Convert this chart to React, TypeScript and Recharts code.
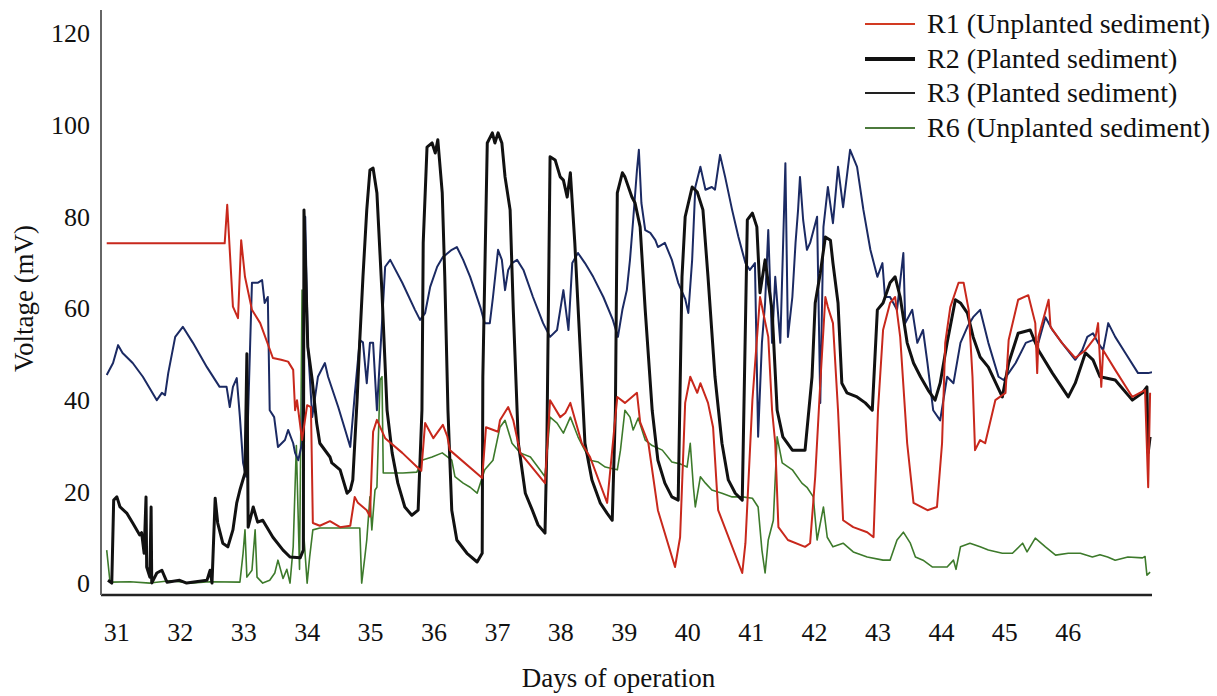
import React from 'react';
import { LineChart, Line, XAxis, YAxis, Legend, Label } from 'recharts';

const SERIF = `"Liberation Serif", "Tinos", "FreeSerif", monospace`;

const dayTicks = [31, 32, 33, 34, 35, 36, 37, 38, 39, 40, 41, 42, 43, 44, 45, 46];
const voltTicks = [0, 20, 40, 60, 80, 100, 120];

// R1 (Unplanted sediment)
const r1Days = [
  30.84, 32.70, 32.74, 32.83, 32.91, 32.96, 33.02, 33.13, 33.26, 33.46,
  33.59, 33.70, 33.78, 33.81, 33.84, 33.92, 34.00, 34.06, 34.09, 34.20,
  34.36, 34.52, 34.68, 34.75, 34.80, 34.94, 34.99, 35.04, 35.10, 35.23,
  35.50, 35.75, 35.80, 35.86, 35.99, 36.14, 36.21, 36.25, 36.76, 36.82,
  37.01, 37.04, 37.17, 37.25, 37.36, 37.75, 37.83, 37.99, 38.07, 38.15,
  38.33, 38.46, 38.73, 38.89, 39.01, 39.20, 39.25, 39.38, 39.53, 39.80,
  39.88, 39.96, 40.04, 40.15, 40.20, 40.32, 40.40, 40.48, 40.86, 40.91,
  41.02, 41.14, 41.27, 41.33, 41.38, 41.43, 41.58, 41.85, 41.93, 42.01,
  42.09, 42.17, 42.21, 42.29, 42.37, 42.45, 42.61, 42.83, 42.93, 43.00,
  43.08, 43.19, 43.27, 43.35, 43.46, 43.56, 43.78, 43.93, 44.01, 44.06,
  44.14, 44.27, 44.35, 44.43, 44.49, 44.53, 44.61, 44.69, 44.85, 45.01,
  45.06, 45.21, 45.37, 45.48, 45.51, 45.53, 45.69, 45.72, 45.90, 46.11,
  46.27, 46.43, 46.47, 46.52, 46.55, 46.74, 47.01, 47.21, 47.26, 47.29,
];
const r1Mv = [
  74.1, 74.1, 82.5, 60.3, 57.8, 74.8, 66.8, 59.6, 56.7, 49.1,
  48.7, 48.3, 46.5, 37.7, 39.9, 31.2, 38.8, 38.4, 13.1, 12.5,
  13.5, 12.2, 12.5, 18.8, 17.5, 15.9, 14.5, 33, 35.6, 31.6,
  28.4, 25.1, 24.5, 34.9, 31.6, 34.5, 32, 29, 22.9, 34,
  33, 35.5, 38.4, 35.5, 28.4, 21.8, 39.9, 36.2, 37.1, 39.3,
  30.5, 27.5, 17.5, 40.6, 39.3, 41.5, 35.1, 30.5, 15.9, 3.5,
  10, 39.3, 45, 41.5, 43.6, 39.3, 34, 15.9, 2.2, 8.7,
  39.9, 62.4, 53.7, 37.7, 30.5, 12.2, 9.4, 7.9, 8.7, 23.2,
  43.6, 62.4, 60.2, 56.7, 37.7, 13.7, 12.2, 11.1, 10, 37.7,
  55.2, 61.1, 62.4, 53.7, 30.5, 17.5, 15.9, 16.6, 30.5, 52.4,
  60.2, 65.5, 65.5, 59.6, 45, 29, 31.2, 30.5, 39.9, 41.5,
  53, 61.8, 62.8, 56.7, 45.8, 53.7, 61.8, 55.9, 52.4, 49.1,
  50.8, 53.7, 56.7, 42.8, 50.8, 46.5, 40.6, 42.1, 20.9, 41.5,
];

// R2 (Planted sediment)
const r2Days = [
  30.86, 30.92, 30.95, 31.00, 31.05, 31.16, 31.25, 31.36, 31.39, 31.43,
  31.46, 31.47, 31.52, 31.54, 31.55, 31.63, 31.71, 31.79, 31.99, 32.10,
  32.42, 32.47, 32.50, 32.55, 32.59, 32.67, 32.75, 32.83, 32.89, 32.94,
  33.02, 33.05, 33.07, 33.15, 33.22, 33.30, 33.46, 33.62, 33.73, 33.89,
  33.94, 33.95, 34.01, 34.08, 34.15, 34.20, 34.36, 34.39, 34.52, 34.63,
  34.68, 34.72, 34.79, 34.83, 34.88, 34.94, 34.99, 35.04, 35.10, 35.18,
  35.26, 35.34, 35.43, 35.54, 35.65, 35.75, 35.81, 35.83, 35.89, 35.97,
  36.02, 36.06, 36.13, 36.17, 36.22, 36.28, 36.36, 36.52, 36.68, 36.76,
  36.77, 36.84, 36.92, 36.96, 37.01, 37.07, 37.12, 37.20, 37.25, 37.33,
  37.44, 37.55, 37.64, 37.75, 37.78, 37.83, 37.91, 37.99, 38.04, 38.10,
  38.15, 38.22, 38.30, 38.38, 38.49, 38.62, 38.73, 38.81, 38.86, 38.89,
  38.97, 39.01, 39.12, 39.17, 39.25, 39.33, 39.44, 39.53, 39.64, 39.75,
  39.85, 39.91, 39.96, 40.07, 40.15, 40.24, 40.32, 40.43, 40.54, 40.64,
  40.75, 40.86, 40.94, 41.02, 41.09, 41.14, 41.22, 41.33, 41.41, 41.50,
  41.65, 41.85, 41.96, 42.01, 42.09, 42.17, 42.25, 42.29, 42.37, 42.43,
  42.51, 42.67, 42.80, 42.91, 42.99, 43.08, 43.19, 43.27, 43.35, 43.46,
  43.56, 43.67, 43.79, 43.90, 43.98, 44.09, 44.22, 44.30, 44.41, 44.50,
  44.61, 44.74, 44.96, 45.06, 45.21, 45.40, 45.53, 45.75, 46.00, 46.11,
  46.27, 46.39, 46.50, 46.74, 47.01, 47.17, 47.24, 47.26, 47.29,
];
const r2Mv = [
  0.6, 0, 18.1, 18.8, 16.6, 15.2, 13.1, 10.5, 11, 6.5,
  18.8, 3.5, 1.3, 16.6, 0, 2.2, 2.8, 0.2, 0.6, 0,
  0.6, 2.8, 0, 18.5, 13.1, 8.7, 7.9, 11.6, 17.5, 20.3,
  24, 50, 12.2, 16.6, 13.3, 13.7, 10, 7.2, 5.7, 5.5,
  7.2, 81.4, 51.5, 44.3, 34.9, 30.5, 27.5, 26.2, 24.7, 19.6,
  20.3, 22.5, 40.6, 53, 66.8, 81.4, 90.1, 90.5, 85.1, 63.3,
  37.7, 28.4, 21.8, 16.6, 14.8, 15.9, 37.7, 74.2, 95.1, 96,
  93.8, 96.7, 85.1, 66.8, 37.7, 15.9, 9.4, 6.5, 4.6, 6.5,
  45, 96, 98.2, 96, 98.2, 96, 88.6, 81.4, 59.6, 30.5,
  19.6, 15.9, 12.7, 10.9, 30.5, 93, 92.3, 88.6, 87.9, 84.2,
  89.5, 74.2, 52.4, 30.5, 22.5, 17.5, 15.2, 13.7, 37.7, 85.1,
  89.5, 88.6, 84.2, 82.9, 77.7, 59.6, 37.7, 26.8, 21.8, 18.8,
  18.1, 66.8, 79.9, 86.4, 85.3, 81.4, 66.8, 45, 30.5, 22.5,
  19.6, 18.1, 79.2, 80.7, 77.7, 63.3, 70.5, 59.6, 37.7, 31.9,
  29, 29, 45, 61.1, 67.6, 75.5, 74.8, 69.8, 61.1, 43.6,
  41.5, 40.6, 39.3, 37.7, 59.6, 61.1, 65.5, 66.8, 62.4, 52.4,
  48, 45, 42.1, 39.9, 43.6, 52.4, 61.8, 61.1, 58.9, 53.7,
  49.3, 47.1, 40.6, 48, 54.5, 55.2, 50.8, 45.8, 40.6, 43.6,
  50.2, 48.7, 45, 44.3, 39.9, 41.5, 42.8, 28.4, 31.9,
];

// R3 (Planted sediment)
const r3Days = [
  30.84, 30.94, 31.02, 31.09, 31.25, 31.41, 31.63, 31.71, 31.76, 31.81,
  31.92, 32.04, 32.20, 32.42, 32.62, 32.73, 32.78, 32.83, 32.89, 32.94,
  32.99, 33.04, 33.13, 33.22, 33.29, 33.33, 33.38, 33.41, 33.48, 33.54,
  33.65, 33.70, 33.78, 33.81, 33.86, 33.92, 33.97, 34.01, 34.08, 34.17,
  34.28, 34.33, 34.49, 34.60, 34.68, 34.75, 34.83, 34.88, 34.94, 34.99,
  35.04, 35.10, 35.18, 35.23, 35.31, 35.50, 35.70, 35.78, 35.86, 35.94,
  36.05, 36.14, 36.28, 36.36, 36.46, 36.57, 36.73, 36.80, 36.88, 36.93,
  37.01, 37.07, 37.12, 37.17, 37.23, 37.31, 37.41, 37.56, 37.72, 37.83,
  37.94, 38.04, 38.12, 38.18, 38.27, 38.38, 38.51, 38.67, 38.82, 38.90,
  38.97, 39.04, 39.09, 39.14, 39.20, 39.23, 39.27, 39.33, 39.41, 39.49,
  39.53, 39.64, 39.75, 39.85, 39.96, 40.01, 40.07, 40.12, 40.20, 40.28,
  40.38, 40.43, 40.51, 40.59, 40.70, 40.80, 40.91, 40.98, 41.06, 41.11,
  41.17, 41.22, 41.27, 41.33, 41.38, 41.46, 41.54, 41.58, 41.65, 41.70,
  41.74, 41.77, 41.82, 41.88, 41.93, 42.04, 42.09, 42.14, 42.21, 42.29,
  42.37, 42.45, 42.56, 42.67, 42.77, 42.88, 42.99, 43.07, 43.11, 43.19,
  43.30, 43.40, 43.43, 43.54, 43.62, 43.71, 43.78, 43.87, 43.98, 44.09,
  44.19, 44.30, 44.41, 44.50, 44.61, 44.74, 44.90, 44.98, 45.06, 45.17,
  45.33, 45.44, 45.53, 45.64, 45.75, 45.90, 46.11, 46.22, 46.30, 46.39,
  46.47, 46.55, 46.63, 46.74, 46.90, 47.10, 47.26, 47.32,
];
const r3Mv = [
  45.4, 48, 51.9, 50.2, 48, 45, 39.9, 41.5, 41, 45.8,
  53.7, 55.9, 52.4, 47.1, 42.8, 42.8, 38.4, 42.8, 44.7, 36.2,
  26.2, 23.2, 65.5, 65.5, 66.1, 61.1, 62.4, 37.7, 36.2, 29.7,
  31.2, 33.4, 30.5, 28.4, 26.8, 30.5, 79.9, 52.4, 36.2, 45,
  48, 45, 38.4, 33.4, 29.7, 41, 53, 52.5, 43.6, 52.4,
  52.4, 37.7, 56.7, 69, 70.5, 65.5, 59.6, 57.4, 58.9, 64.6,
  69, 71.1, 72.7, 73.3, 70.5, 66.8, 60.2, 56.7, 56.7, 62.4,
  72.7, 70.5, 63.9, 68.3, 69.8, 70.5, 68.3, 62.4, 56.7, 53.7,
  55.2, 63.9, 55.2, 69.8, 72, 69.8, 66.8, 62.4, 57.4, 53.7,
  59.6, 63.9, 70.5, 79.2, 90.1, 94.5, 82.9, 77, 76.4, 74.8,
  73.3, 74.2, 70.5, 65.5, 62, 58.9, 70.5, 86.4, 90.8, 85.8,
  86.4, 85.8, 93.4, 88.6, 81.4, 75.5, 69.8, 68.3, 69.8, 31.9,
  52.4, 61.1, 77, 52.4, 66.8, 52.4, 91.6, 53.7, 62.4, 74.2,
  81.4, 88.6, 79.2, 72.7, 74.2, 79.9, 39.3, 77.7, 86.4, 78.5,
  90.8, 82, 94.5, 90.8, 81.4, 72.7, 66.8, 69.8, 62.4, 62.4,
  59.6, 72, 56.7, 59.6, 52.4, 55.2, 48, 37.7, 35.5, 45,
  43.6, 52.4, 55.9, 58, 59.6, 52.4, 45, 44.3, 45.8, 48,
  52.4, 53, 52.5, 58, 55.2, 52.4, 48.7, 50.8, 53.7, 54.5,
  52.4, 50.8, 56.7, 53.7, 50.2, 45.8, 45.8, 46,
];

// R6 (Unplanted sediment)
const r6Days = [
  30.84, 30.89, 30.92, 31.21, 31.52, 31.84, 32.15, 32.47, 32.94, 32.99,
  33.02, 33.05, 33.13, 33.18, 33.21, 33.30, 33.41, 33.49, 33.54, 33.62,
  33.68, 33.73, 33.78, 33.83, 33.88, 33.92, 33.95, 34.00, 34.04, 34.09,
  34.20, 34.52, 34.83, 34.86, 34.91, 34.94, 34.99, 35.02, 35.07, 35.10,
  35.15, 35.18, 35.20, 35.31, 35.51, 35.73, 35.81, 35.97, 36.13, 36.28,
  36.33, 36.46, 36.57, 36.68, 36.80, 36.93, 37.04, 37.12, 37.23, 37.36,
  37.52, 37.67, 37.75, 37.83, 37.94, 38.04, 38.15, 38.27, 38.35, 38.46,
  38.59, 38.70, 38.89, 38.94, 39.01, 39.09, 39.14, 39.22, 39.33, 39.44,
  39.60, 39.75, 39.88, 39.99, 40.04, 40.09, 40.12, 40.20, 40.28, 40.38,
  40.54, 40.70, 40.86, 41.02, 41.11, 41.17, 41.22, 41.27, 41.35, 41.41,
  41.49, 41.65, 41.80, 41.88, 41.98, 42.04, 42.14, 42.20, 42.29, 42.45,
  42.61, 42.83, 43.08, 43.19, 43.30, 43.40, 43.51, 43.59, 43.71, 43.86,
  44.09, 44.19, 44.23, 44.30, 44.45, 44.61, 44.74, 44.96, 45.12, 45.28,
  45.35, 45.48, 45.64, 45.80, 46.00, 46.19, 46.38, 46.50, 46.62, 46.74,
  46.94, 47.17, 47.21, 47.24, 47.29,
];
const r6Mv = [
  7.2, 0.5, 0.2, 0.3, 0, 0.5, 0, 0.3, 0.2, 6.5,
  11.6, 1.3, 2.8, 11.6, 1.3, 0, 0.6, 2.2, 5, 1,
  3, 0, 7.9, 30, 3, 63.9, 10, 0, 5.7, 11.6,
  12, 12, 12, 0, 5.7, 9.4, 18.8, 11.6, 20.3, 20.9,
  44.3, 45, 24, 24, 24, 24.2, 26.8, 27.5, 28.4, 26.8,
  23.2, 21.8, 20.9, 19.6, 24.7, 26.8, 34, 35.5, 30.5, 28.4,
  27.5, 24.7, 23.2, 36.2, 34.9, 32.7, 36.2, 31.9, 29.7, 26.8,
  26.4, 25.3, 24.7, 29, 37.7, 36.2, 33.4, 36, 31.2, 30,
  29, 26.4, 26, 25.3, 30.5, 20.9, 16.6, 23.2, 21.8, 20.3,
  19.6, 18.8, 18.8, 18.5, 16.6, 7.2, 2.2, 9.4, 13.7, 31.9,
  26.2, 24.7, 21.8, 20.9, 18.8, 9.4, 16.6, 10, 7.9, 8.7,
  6.8, 5.7, 5, 5, 9.4, 11.1, 8.7, 5.7, 5, 3.5,
  3.5, 5, 3, 7.9, 8.7, 7.9, 7.2, 6.5, 6.5, 8.7,
  6.8, 9.8, 7.9, 6.1, 6.5, 6.5, 5.7, 6.2, 5.7, 5,
  5.7, 5.5, 5.8, 1.7, 2.4,
];

const toPoints = (days: number[], mv: number[]) => days.map((day, i) => ({ day, mv: mv[i] }));

// drawing order: bottom first
const SERIES = [
  { name: 'R6 (Unplanted sediment)', data: toPoints(r6Days, r6Mv), color: '#3d7a2b', width: 1.6 },
  { name: 'R3 (Planted sediment)', data: toPoints(r3Days, r3Mv), color: '#1b2a63', width: 2 },
  { name: 'R2 (Planted sediment)', data: toPoints(r2Days, r2Mv), color: '#111111', width: 3 },
  { name: 'R1 (Unplanted sediment)', data: toPoints(r1Days, r1Mv), color: '#c8281c', width: 2 },
];

const LEGEND_ROWS = [
  { name: 'R1 (Unplanted sediment)', color: '#d23a22', width: 2 },
  { name: 'R2 (Planted sediment)', color: '#111111', width: 4 },
  { name: 'R3 (Planted sediment)', color: '#222222', width: 2 },
  { name: 'R6 (Unplanted sediment)', color: '#4c7a3c', width: 2 },
];

const renderLegend = () => (
  <div style={{ fontFamily: SERIF, fontSize: 28, lineHeight: '34.5px', color: '#111' }}>
    {LEGEND_ROWS.map((row) => (
      <div key={row.name} style={{ display: 'flex', alignItems: 'center', whiteSpace: 'nowrap' }}>
        <svg width={50} height={8} style={{ marginRight: 12, flex: 'none' }}>
          <line x1={0} y1={4} x2={50} y2={4} stroke={row.color} strokeWidth={row.width} />
        </svg>
        <span>{row.name}</span>
      </div>
    ))}
  </div>
);

const renderYLabel = (props: any) => {
  const vb = props.viewBox || { x: 0, y: 10, width: 101, height: 585 };
  const x = vb.x + 33;
  const y = vb.y + vb.height / 2 - 4;
  return (
    <text
      x={x}
      y={y}
      transform={`rotate(-90, ${x}, ${y})`}
      textAnchor="middle"
      style={{ fontFamily: SERIF, fontSize: 27 }}
      fill="#111"
    >
      Voltage (mV)
    </text>
  );
};

const tickStyle = { fontSize: 26, fill: '#111', style: { fontFamily: SERIF } };

export default function App() {
  return (
    <div style={{ position: 'absolute', left: 0, top: 0, background: '#fff', fontFamily: SERIF }}>
      <LineChart width={1217} height={696} margin={{ top: 10, right: 65, left: 0, bottom: 0 }}>
        <XAxis
          type="number"
          dataKey="day"
          domain={[30.75, 47.32]}
          ticks={dayTicks}
          allowDataOverflow
          height={101}
          tickLine={false}
          tickSize={6}
          tickMargin={22}
          axisLine={{ stroke: '#222', strokeWidth: 2.5 }}
          tick={tickStyle}
        >
          <Label
            value="Days of operation"
            position="insideBottom"
            offset={9}
            dx={-8}
            fontSize={27}
            fill="#111"
            style={{ fontFamily: SERIF }}
          />
        </XAxis>
        <YAxis
          type="number"
          domain={[-2.6, 125]}
          ticks={voltTicks}
          allowDataOverflow
          width={101}
          tickLine={false}
          tickSize={6}
          tickMargin={5}
          axisLine={{ stroke: '#666', strokeWidth: 2 }}
          tick={tickStyle}
        >
          <Label content={renderYLabel} />
        </YAxis>
        <Legend
          layout="vertical"
          align="center"
          verticalAlign="middle"
          content={renderLegend}
          wrapperStyle={{ top: 7, left: 865, width: 352 }}
        />
        {SERIES.map((s) => (
          <Line
            key={s.name}
            name={s.name}
            data={s.data}
            dataKey="mv"
            type="linear"
            stroke={s.color}
            strokeWidth={s.width}
            strokeLinejoin="round"
            dot={false}
            activeDot={false}
            isAnimationActive={false}
          />
        ))}
      </LineChart>
    </div>
  );
}
